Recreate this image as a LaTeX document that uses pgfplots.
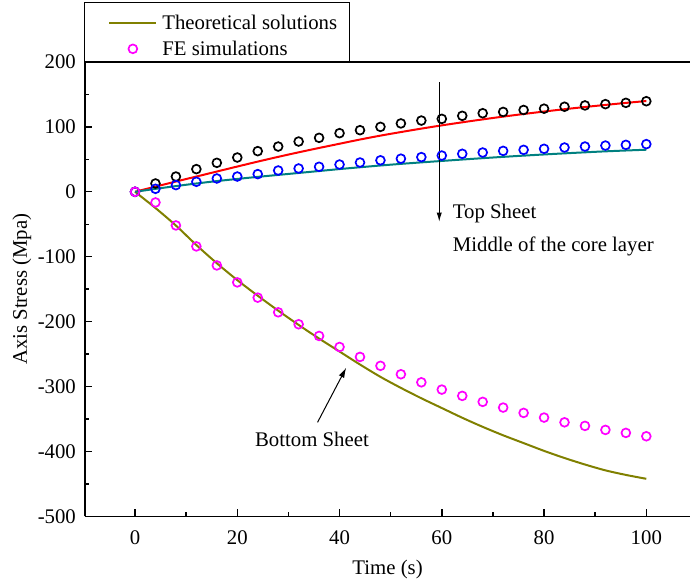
\documentclass[border=0pt]{standalone}
\usepackage{fontspec}
\setmainfont{Liberation Serif}
\usepackage{pgfplots}
\pgfplotsset{compat=1.18}
\usetikzlibrary{arrows.meta}
\definecolor{olivec}{RGB}{128,128,0}
\definecolor{tealc}{RGB}{0,128,128}
\definecolor{magc}{RGB}{255,0,255}
\definecolor{bluec}{RGB}{0,0,255}
\definecolor{redc}{RGB}{255,0,0}

\pgfplotsset{
  legline/.style={legend image code/.code={\path (-6pt,3.3pt); \draw[##1] (0pt,3.3pt) -- (23.5pt,3.3pt);}},
  legmark/.style={legend image code/.code={\path (-6pt,3.3pt) (23.5pt,3.3pt); \draw[##1] plot coordinates {(11.75pt,3.3pt)};}},
}

% theory curves (lines) and FE results (circles)
\pgfplotstableread{
t   top    mid    bot
0   0      0      0
4   8      4.5    -25
8   15.8   8.8    -52
12  23.5   12.8   -82
16  31.2   16.5   -110
20  38.9   19.8   -136
24  46.5   23     -160
28  53.8   26     -183
32  60.8   29     -205
36  67.5   32     -226
40  74     35     -246
44  80.5   37.8   -266
48  86.5   40.5   -285
52  92     43     -302
56  97.3   45.3   -318
60  102.3  47.5   -333
64  107    49.7   -348
68  111.5  51.8   -362
72  115.8  53.8   -375
76  119.8  55.7   -387
80  123.6  57.5   -399
84  127.2  59.2   -410
88  130.6  60.8   -420
92  133.8  62.3   -429
96  136.9  63.6   -436
100 139.8  64.8   -442
}\theory

\pgfplotstableread{
t   top    mid    bot
0   0      0      0
4   12.8   4.6    -16.4
8   23.5   10.3   -51.8
12  34.9   15.4   -84.1
16  44.6   20.5   -113.4
20  52.8   23.5   -139.5
24  62.6   27.2   -163
28  69.7   32.8   -185.6
32  77.4   35.9   -204
36  83.1   38.5   -222
40  90.3   42     -239
44  94.9   45.1   -254.3
48  100    48.5   -268
52  105.3  51     -281
56  109.7  53.4   -293.4
60  112.3  55.8   -304.6
64  117    58.5   -314.3
68  121    60.5   -323.5
72  123    63     -332.3
76  126    64.6   -340.5
80  128    66.2   -347.7
84  131    68.2   -355
88  133    69.7   -360.5
92  135    71.2   -366.7
96  137    72.3   -371.3
100 139.5  73.4   -376.5
}\fe

\begin{document}
\begin{tikzpicture}[font=\fontsize{10.4}{12.5}\selectfont]
\begin{axis}[
    scale only axis,
    width=303pt, height=227.5pt,
    xmin=-9.8, xmax=108.6,
    ymin=-500, ymax=200,
    axis x line*=bottom, axis y line*=left,
    axis line style={line width=0.7pt},
    tick align=inside,
    major tick length=3.5pt, minor tick length=2pt,
    tick style={black, line width=0.7pt},
    xtick={0,20,...,100}, minor x tick num=1,
    ytick={-500,-400,...,200}, minor y tick num=1,
    /pgf/number format/assume math mode=true,
    xticklabel style={anchor=center, yshift=-10.5pt},
    yticklabel style={anchor=east, xshift=-1pt},
    xlabel={Time (s)},
    ylabel={Axis Stress (Mpa)},
    every axis x label/.style={at={([yshift=-26.5pt]rel axis cs:0.5,0)}, anchor=center},
    every axis y label/.style={at={([xshift=-31.5pt]rel axis cs:0,0.5)}, anchor=center, rotate=90},
    clip=false,
    legend style={at={(0,1)}, anchor=south west, xshift=-0.5pt,
        draw=black, line width=0.5pt, fill=white,
        inner xsep=6pt, inner ysep=1pt,
        row sep=-1.5pt, column sep=2.5pt,
        nodes={inner sep=0pt, text height=12.5pt, text depth=2pt, anchor=base west}},
]
\coordinate (bl) at (rel axis cs:0,0);
\coordinate (tr) at (rel axis cs:1,1);
\draw[line width=0.7pt] (rel axis cs:0,1) -- (rel axis cs:1,1);

\addplot[only marks, mark=o, mark size=2.2pt, black, mark options={line width=0.85pt}, forget plot]
    table[x=t, y=top] {\fe};
\addplot[only marks, mark=o, mark size=2.2pt, bluec, mark options={line width=0.85pt}, forget plot]
    table[x=t, y=mid] {\fe};

\addplot[olivec, line width=1pt, no marks, smooth, legline]
    table[x=t, y=bot] {\theory};
\addlegendentry{Theoretical solutions}

\addplot[only marks, mark=o, mark size=2.2pt, magc, mark options={line width=0.85pt}, legmark]
    table[x=t, y=bot] {\fe};
\addlegendentry{FE simulations}

\addplot[redc, line width=1pt, no marks, smooth, forget plot] table[x=t, y=top] {\theory};
\addplot[tealc, line width=1pt, no marks, smooth, forget plot] table[x=t, y=mid] {\theory};

\draw[line width=0.5pt, -{Latex[length=4.5pt, width=2.6pt]}] (axis cs:59.5,169) -- (axis cs:59.5,-46);
\node[anchor=west, inner sep=0pt] at (axis cs:62.1,-33.5) {Top Sheet};
\node[anchor=west, inner sep=0pt] at (axis cs:62.1,-84.5) {Middle of the core layer};
\draw[line width=0.5pt, -{Latex[length=5pt, width=3pt]}] (axis cs:35.7,-355) -- (axis cs:41.3,-271);
\node[inner sep=0pt] at (axis cs:34.6,-382) {Bottom Sheet};
\end{axis}
\path ([shift={(-42.5pt,-34pt)}]bl) rectangle ([yshift=31pt]tr);
\end{tikzpicture}
\end{document}
